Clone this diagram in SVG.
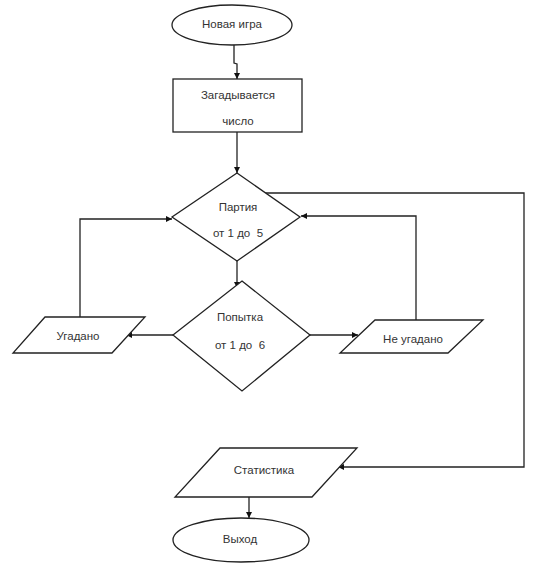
<svg xmlns="http://www.w3.org/2000/svg" width="547" height="566" viewBox="0 0 547 566">
<defs>
<marker id="arr" viewBox="0 0 10 10" refX="10" refY="5" markerWidth="6" markerHeight="6" orient="auto" markerUnits="userSpaceOnUse">
<path d="M0,0 L10,5 L0,10 z" fill="#111"/>
</marker>
<style>
.s{fill:#fff;stroke:#222;stroke-width:1.3}
.c{fill:none;stroke:#222;stroke-width:1.3}
.t{font-family:"Liberation Sans",Arial,sans-serif;font-size:11.5px;fill:#333;text-anchor:middle;dominant-baseline:central}
</style>
</defs>
<rect width="547" height="566" fill="#fff"/>
<g id="connectors">
<polyline class="c" points="234,45 234,63 237,64 237,79" marker-end="url(#arr)"/>
<line class="c" x1="237" y1="132" x2="237" y2="173" marker-end="url(#arr)"/>
<line class="c" x1="237" y1="261" x2="237" y2="288" marker-end="url(#arr)"/>
<line class="c" x1="173" y1="335" x2="126" y2="335" marker-end="url(#arr)"/>
<line class="c" x1="310" y1="335" x2="358" y2="335" marker-end="url(#arr)"/>
<polyline class="c" points="80,317 80,219 172,219" marker-end="url(#arr)"/>
<polyline class="c" points="416,320 416,216 301,216" marker-end="url(#arr)"/>
<polyline class="c" points="264,193 524,193 524,467 338,467" marker-end="url(#arr)"/>
<line class="c" x1="249" y1="497" x2="249" y2="518" stroke-width="2" marker-end="url(#arr)"/>
</g>
<g id="start">
<ellipse class="s" cx="232" cy="25" rx="60" ry="20"/>
<text class="t" x="232" y="24">Новая игра</text>
</g>
<g id="think">
<rect class="s" x="173" y="79" width="129" height="53"/>
<text class="t" x="238" y="95">Загадывается</text>
<text class="t" x="238" y="121">число</text>
</g>
<g id="round">
<polygon class="s" points="237,173 300,217 237,261 172,217"/>
<text class="t" x="238" y="207">Партия</text>
<text class="t" x="238" y="233" xml:space="preserve">от 1 до  5</text>
</g>
<g id="attempt">
<polygon class="s" points="242,281 310,335 242,391 173,335"/>
<text class="t" x="240" y="317">Попытка</text>
<text class="t" x="240" y="345" xml:space="preserve">от 1 до  6</text>
</g>
<g id="guessed">
<polygon class="s" points="45,317 145,317 112,353 13,353"/>
<text class="t" x="78" y="336">Угадано</text>
</g>
<g id="notguessed">
<polygon class="s" points="375,320 483,320 448,353 340,353"/>
<text class="t" x="413" y="339">Не угадано</text>
</g>
<g id="stats">
<polygon class="s" points="220,448 357,448 312,497 175,497"/>
<text class="t" x="264" y="470">Статистика</text>
</g>
<g id="exit">
<ellipse class="s" cx="241" cy="540" rx="68" ry="22"/>
<text class="t" x="240" y="539">Выход</text>
</g>
</svg>
